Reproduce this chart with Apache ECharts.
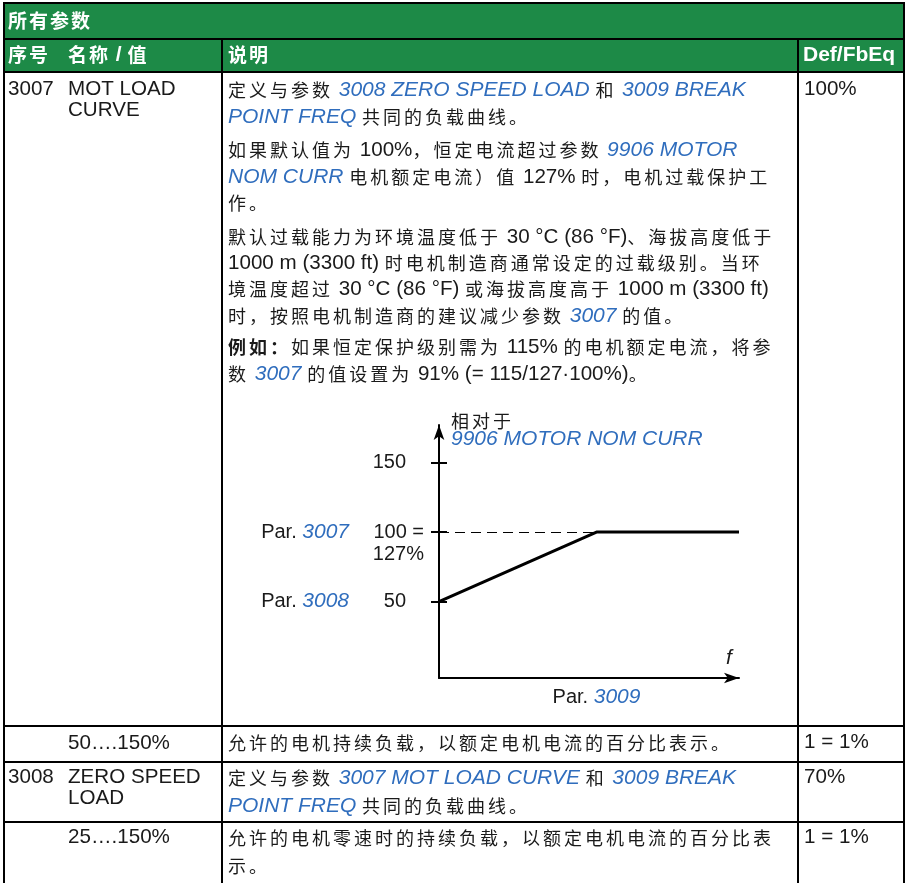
<!DOCTYPE html>
<html>
<head>
<meta charset="utf-8">
<script src="https://cdn.jsdelivr.net/npm/echarts@6/dist/echarts.min.js"></script>
<style>
  html, body { margin: 0; padding: 0; background: #fff; }
  #main { width: 905px; height: 883px; }
</style>
</head>
<body>
<div id="main"></div>
<script>
  /* curve data */
  var curveX = [0, 52.5, 100];
  var curveY = [50, 100, 100];
  var breakX = 52.5, breakY = 100, dashBottom = -10;
  var yTicks = [50, 100, 150];
  var yParValues = [50, 100];
  var yParLabels = ['3008', '3007'];
  var xParValues = [52.5];
  var xParLabels = ['3009'];

  /* table text: [x, y, markup] */
  var headerTexts = [
    [8, 21, '所有参数'],
    [8, 55, '序号'],
    [68, 55, '名称 / 值'],
    [228, 55, '说明'],
    [803, 55, 'Def/FbEq']
  ];
  var bodyTexts = [
    [8, 89, '3007'], [68, 89, 'MOT LOAD'], [68, 110, 'CURVE'], [804, 89, '100%'],
    [228, 90, '定义与参数 {b|3008 ZERO SPEED LOAD} 和 {b|3009 BREAK}'],
    [228, 117, '{b|POINT FREQ} 共同的负载曲线。'],
    [228, 150, '如果默认值为 100%，恒定电流超过参数 {b|9906 MOTOR}'],
    [228, 177, '{b|NOM CURR} 电机额定电流）值 127% 时，电机过载保护工'],
    [228, 203, '作。'],
    [228, 237, '默认过载能力为环境温度低于 30 °C (86 °F)、海拔高度低于'],
    [228, 263, '1000 m (3300 ft) 时电机制造商通常设定的过载级别。当环'],
    [228, 289, '境温度超过 30 °C (86 °F) 或海拔高度高于 1000 m (3300 ft)'],
    [228, 316, '时，按照电机制造商的建议减少参数 {b|3007} 的值。'],
    [228, 347, '{k|例如：}如果恒定保护级别需为 115% 的电机额定电流，将参'],
    [228, 374, '数 {b|3007} 的值设置为 91% (= 115/127·100%)。'],
    [451, 421, '相对于'],
    [451, 439, '{b|9906 MOTOR NOM CURR}'],
    [68, 743, '50….150%'], [228, 743, '允许的电机持续负载，以额定电机电流的百分比表示。'], [804, 742, '1 = 1%'],
    [8, 777, '3008'], [68, 777, 'ZERO SPEED'], [68, 798, 'LOAD'], [804, 777, '70%'],
    [228, 778, '定义与参数 {b|3007 MOT LOAD CURVE} 和 {b|3009 BREAK}'],
    [228, 806, '{b|POINT FREQ} 共同的负载曲线。'],
    [68, 837, '25….150%'], [804, 837, '1 = 1%'],
    [228, 838, '允许的电机零速时的持续负载，以额定电机电流的百分比表'],
    [228, 866, '示。']
  ];

  var LAT = "'Liberation Sans', Arial, sans-serif";
  var CJK = "'Noto Sans CJK SC', sans-serif";
  var INK = '#1a1a1a', BLUE = '#2f6dbd', GREEN = '#1d8a47';
  var CJK_RE = /[\u3000-\u303f\u4e00-\u9fff\uff00-\uffef]/;

  var richStyles = {
    t: { fontFamily: LAT, fontSize: 20.6, fill: INK, color: INK },
    c: { fontFamily: CJK, fontSize: 18, fill: INK, color: INK, width: 21 },
    b: { fontFamily: LAT, fontSize: 21, fontStyle: 'italic', fill: BLUE, color: BLUE },
    k: { fontFamily: LAT, fontSize: 20.6, fontWeight: 'bold', fill: INK, color: INK },
    kc: { fontFamily: CJK, fontSize: 18, fontWeight: 'bold', fill: INK, color: INK, width: 21 },
    h: { fontFamily: LAT, fontSize: 21, fontWeight: 'bold', fill: '#fff', color: '#fff' },
    hc: { fontFamily: CJK, fontSize: 19, fontWeight: 'bold', fill: '#fff', color: '#fff', width: 21 },
    n: { fontFamily: LAT, fontSize: 20, fill: INK, color: INK, padding: [0, 18, 0, 0] },
    a: { fontFamily: LAT, fontSize: 20, fill: INK, color: INK, lineHeight: 22 },
    e: { fontFamily: LAT, fontSize: 20, lineHeight: 22 }
  };

  function plain(s, tag) {
    var res = '', run = '';
    for (var ch of s) {
      if (CJK_RE.test(ch)) {
        if (run) { res += '{' + tag + '|' + run + '}'; run = ''; }
        res += '{' + (tag === 't' ? 'c' : tag + 'c') + '|' + ch + '}';
      } else run += ch;
    }
    if (run) res += '{' + tag + '|' + run + '}';
    return res;
  }
  function toRich(markup, base) {
    var out = '', last = 0, re = /\{(\w+)\|([^}]*)\}/g, m;
    while ((m = re.exec(markup))) {
      out += plain(markup.slice(last, m.index), base);
      out += plain(m[2], m[1]);
      last = m.index + m[0].length;
    }
    return out + plain(markup.slice(last), base);
  }
  function textEl(item, base) {
    return {
      type: 'text', x: item[0], y: item[1], silent: true,
      style: { text: toRich(item[2], base), rich: richStyles, verticalAlign: 'middle', textAlign: 'left' }
    };
  }
  function hline(y, x1, x2) {
    return { type: 'line', silent: true, shape: { x1: x1, y1: y, x2: x2, y2: y }, style: { stroke: '#000', lineWidth: 2 } };
  }
  function vline(x, y1, y2) {
    return { type: 'line', silent: true, shape: { x1: x, y1: y1, x2: x, y2: y2 }, style: { stroke: '#000', lineWidth: 2 } };
  }

  var graphics = [
    { type: 'rect', silent: true, shape: { x: 4, y: 3, width: 900, height: 69 }, style: { fill: GREEN } }
  ];
  graphics.push(hline(3, 3, 905), hline(39, 3, 905), hline(72, 3, 905),
    hline(726, 3, 905), hline(762, 3, 905), hline(822, 3, 905));
  graphics.push(vline(4, 2, 883), vline(222, 39, 883), vline(798, 39, 883), vline(904, 2, 883));
  headerTexts.forEach(function (it) { graphics.push(textEl(it, 'h')); });
  bodyTexts.forEach(function (it) { graphics.push(textEl(it, 't')); });
  graphics.push({
    type: 'text', x: 726, y: 658, silent: true,
    style: { text: 'f', fontFamily: LAT, fontSize: 21, fontStyle: 'italic', fill: INK, verticalAlign: 'middle' }
  });

  var chart = echarts.init(document.getElementById('main'), null, { renderer: 'canvas' });
  var axisLineStyle = { color: '#000', width: 2 };
  var option = {
    animation: false,
    backgroundColor: '#fff',
    grid: { left: 439, top: 425, right: 166, bottom: 205, containLabel: false, outerBoundsMode: 'none' },
    xAxis: {
      type: 'value', min: 0, max: 100, position: 'bottom',
      axisLine: { onZero: false, symbol: ['none', 'arrow'], symbolSize: [8, 15], lineStyle: axisLineStyle },
      axisTick: { show: false },
      splitLine: { show: false },
      axisLabel: {
        customValues: xParValues, margin: 9,
        fontFamily: LAT, fontSize: 20, color: INK,
        formatter: function (v, i) { return 'Par. {b|' + xParLabels[0] + '}'; },
        rich: richStyles
      }
    },
    yAxis: [{
      type: 'value', min: -5, max: 177, position: 'left',
      axisLine: { show: true, onZero: false, symbol: ['none', 'arrow'], symbolSize: [8, 15], lineStyle: axisLineStyle },
      axisTick: { show: true, customValues: yTicks, length: 8, lineStyle: axisLineStyle },
      splitLine: { show: false },
      axisLabel: {
        customValues: yTicks, margin: 15, align: 'right',
        fontFamily: LAT, fontSize: 20, color: INK,
        formatter: function (v) {
          if (v === 100) return '{e| }\n{a|100 =}\n{a|127%}';
          return '{n|' + v + '}';
        },
        rich: richStyles
      }
    }, {
      type: 'value', min: -5, max: 177, position: 'left', offset: 0,
      axisLine: { show: false },
      axisTick: { show: true, inside: true, customValues: yTicks, length: 8, lineStyle: axisLineStyle },
      splitLine: { show: false },
      axisLabel: {
        customValues: yParValues, margin: 90, align: 'right',
        fontFamily: LAT, fontSize: 20, color: INK,
        formatter: function (v) {
          return 'Par. {b|' + yParLabels[yParValues.indexOf(v)] + '}';
        },
        rich: richStyles
      }
    }],
    series: [{
      type: 'line',
      yAxisIndex: 0,
      data: curveX.map(function (x, i) { return [x, curveY[i]]; }),
      symbol: 'none',
      clip: false,
      lineStyle: { color: '#000', width: 3 },
      markLine: {
        silent: true, symbol: ['none', 'none'], animation: false,
        label: { show: false },
        lineStyle: { color: '#000', width: 1, type: [10, 6] },
        data: [
          [{ coord: [0, breakY] }, { coord: [breakX, breakY] }],
          [{ coord: [breakX, breakY] }, { coord: [breakX, dashBottom] }]
        ]
      }
    }],
    graphic: graphics
  };
  chart.setOption(option);
</script>
</body>
</html>
